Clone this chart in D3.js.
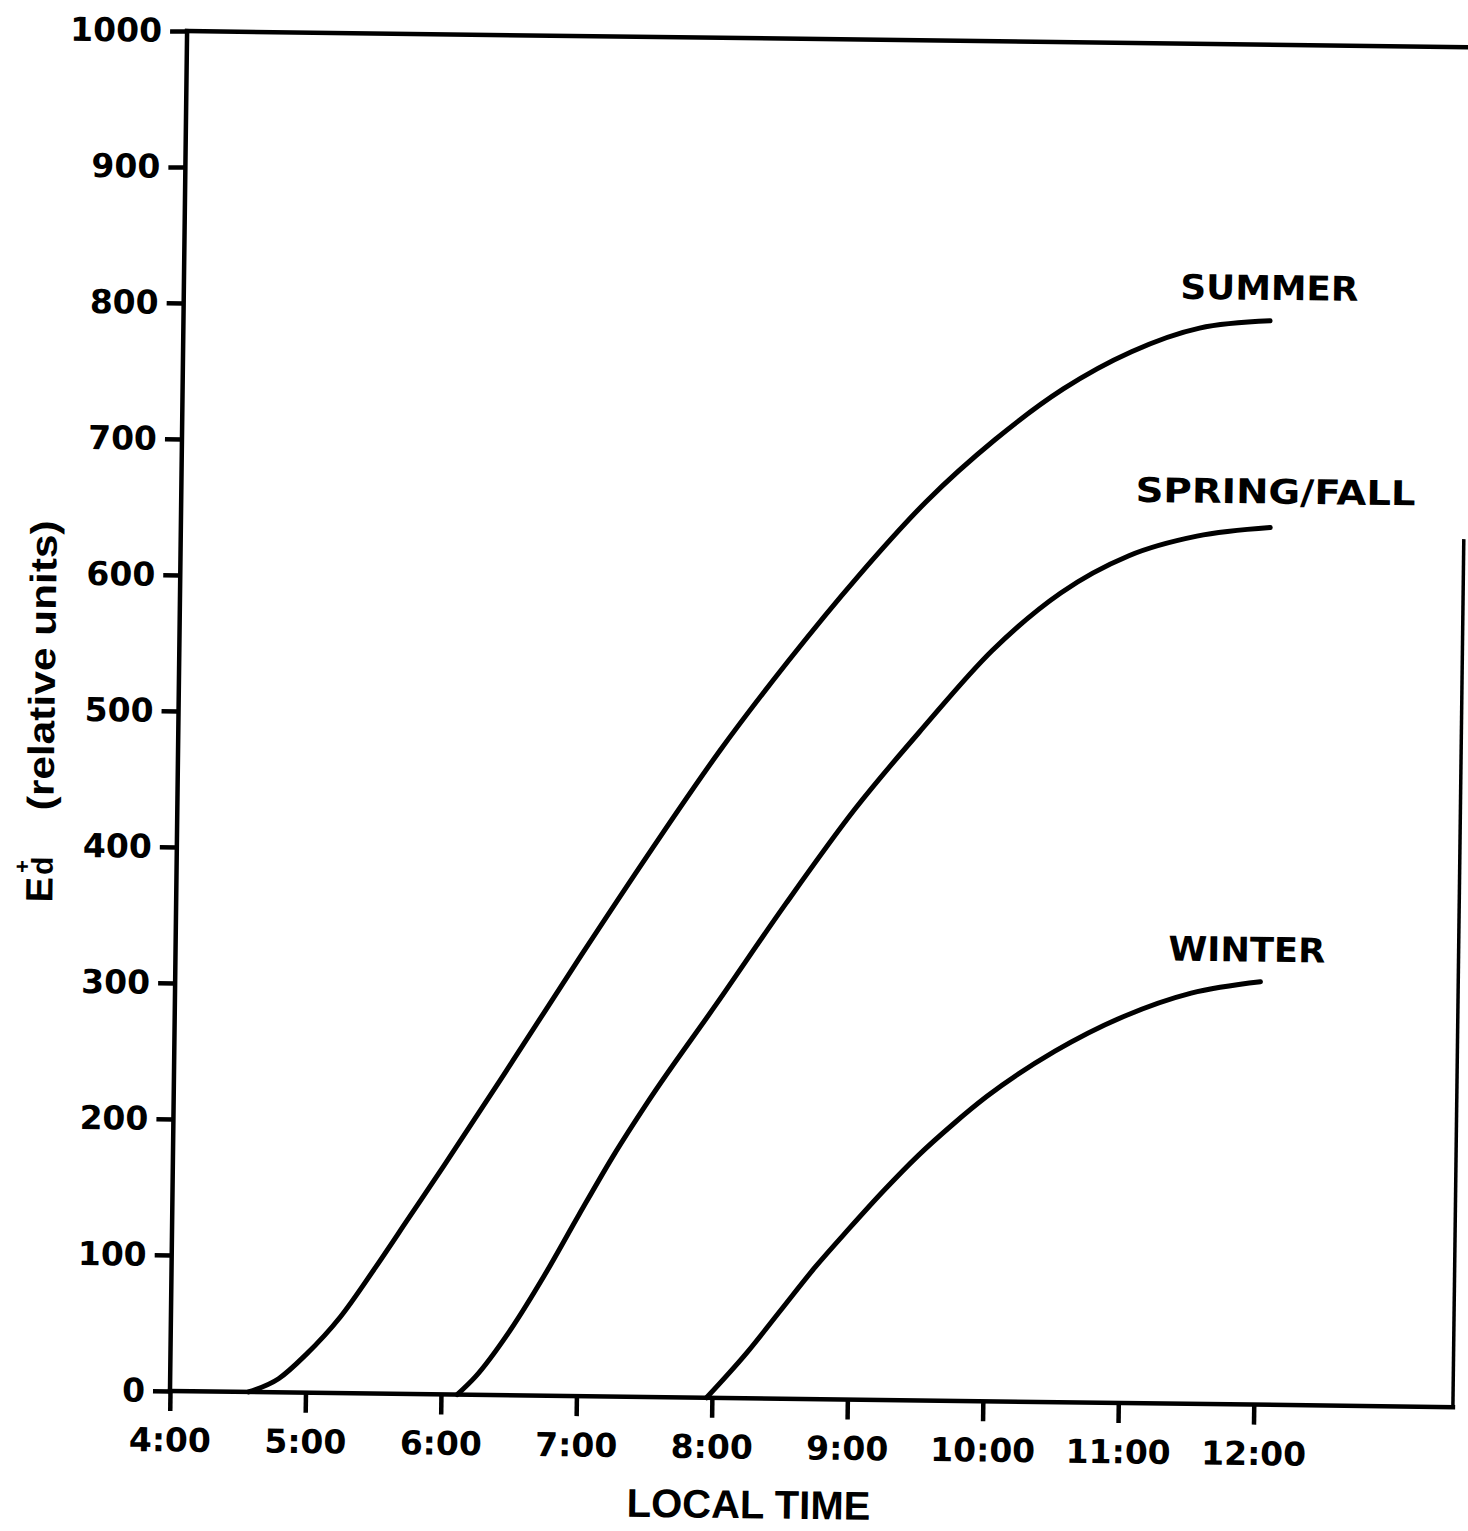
<!DOCTYPE html>
<html>
<head>
<meta charset="utf-8">
<script src="https://cdn.jsdelivr.net/npm/d3@7/dist/d3.min.js"></script>
<style>
  body { margin: 0; background: #fff; }
  svg { display: block; }
</style>
</head>
<body>
<svg id="chart"></svg>
<script>
// Data (hours of local time, E_d+ in relative units)
const hourTicks = [4, 5, 6, 7, 8, 9, 10, 11, 12];
const valueTicks = [0, 100, 200, 300, 400, 500, 600, 700, 800, 900, 1000];

const summerHours = [4.58, 4.80, 5.00, 5.25, 5.50, 5.75, 6.00, 6.50, 7.00, 7.50, 8.00, 8.50, 9.00, 9.50, 10.00, 10.50, 11.00, 11.50, 12.02];
const summerValues = [0, 10, 28, 56, 92, 130, 168, 246, 325, 402, 476, 543, 605, 661, 707, 745, 773, 791, 797];

const springHours = [6.12, 6.25, 6.50, 6.75, 7.00, 7.25, 7.50, 8.00, 8.50, 9.00, 9.50, 10.00, 10.50, 11.00, 11.50, 12.04];
const springValues = [0, 13, 47, 88, 133, 177, 217, 290, 364, 434, 495, 552, 595, 623, 638, 645];

const winterHours = [7.96, 8.25, 8.50, 8.75, 9.00, 9.25, 9.50, 9.75, 10.00, 10.50, 11.00, 11.50, 12.01];
const winterValues = [0, 33, 65, 97, 126, 154, 180, 203, 224, 258, 284, 302, 311];

const seriesNames = ["SUMMER", "SPRING/FALL", "WINTER"];

// Layout
const WIDTH = 1468;
const HEIGHT = 1531;
const LEFT = 170;
const TOP = 31;
const PLOT_W = 1283;
const PLOT_H = 1360;
const TILT = 0.72; // the scanned page sits slightly rotated
const X_MAX = 13.47;
const RIGHT_EDGE_TOP = 637; // right frame only visible up to here

const series = [
  { name: seriesNames[0], hours: summerHours, values: summerValues, dx: -1, dy: -21, len: 178 },
  { name: seriesNames[1], hours: springHours, values: springValues, dx: 5, dy: -24, len: 280 },
  { name: seriesNames[2], hours: winterHours, values: winterValues, dx: -14, dy: -20, len: 157 }
];

const svg = d3.select("#chart")
  .attr("width", WIDTH)
  .attr("height", HEIGHT);

svg.append("rect")
  .attr("width", WIDTH)
  .attr("height", HEIGHT)
  .attr("fill", "#fff");

const chart = svg.append("g")
  .attr("transform",
    "rotate(" + TILT + "," + LEFT + "," + (TOP + PLOT_H) + ") translate(" + LEFT + "," + TOP + ")");

const x = d3.scaleLinear().domain([4, X_MAX]).range([0, PLOT_W]);
const y = d3.scaleLinear().domain([0, 1000]).range([PLOT_H, 0]);

// Frame
const frame = chart.append("g")
  .attr("stroke", "#000")
  .attr("stroke-linecap", "square");

frame.append("line") // top
  .attr("x1", 0).attr("x2", PLOT_W)
  .attr("y1", y(1000)).attr("y2", y(1000))
  .attr("stroke-width", 4.5);

frame.append("line") // left
  .attr("x1", 0).attr("x2", 0)
  .attr("y1", y(1000)).attr("y2", y(0))
  .attr("stroke-width", 4.5);

frame.append("line") // bottom
  .attr("x1", 0).attr("x2", PLOT_W)
  .attr("y1", y(0)).attr("y2", y(0))
  .attr("stroke-width", 4.5);

frame.append("line") // right
  .attr("x1", PLOT_W).attr("x2", PLOT_W)
  .attr("y1", y(RIGHT_EDGE_TOP)).attr("y2", y(0))
  .attr("stroke-width", 3.5);

// Axes
const yAxis = chart.append("g")
  .call(d3.axisLeft(y)
    .tickValues(valueTicks)
    .tickFormat(d3.format("d"))
    .tickSize(17)
    .tickPadding(8));

const xAxis = chart.append("g")
  .attr("transform", "translate(0," + PLOT_H + ")")
  .call(d3.axisBottom(x)
    .tickValues(hourTicks)
    .tickFormat(d => d + ":00")
    .tickSize(20)
    .tickPadding(17));

[yAxis, xAxis].forEach(ax => {
  ax.select(".domain").remove();
  ax.selectAll(".tick line")
    .attr("stroke", "#000")
    .attr("stroke-width", 4.5);
  ax.selectAll(".tick text")
    .attr("fill", "#000")
    .attr("font-family", "'DejaVu Sans', sans-serif")
    .attr("font-weight", "bold")
    .attr("font-size", "33px");
});

// Curves
const line = d3.line()
  .x(d => x(d[0]))
  .y(d => y(d[1]))
  .curve(d3.curveMonotoneX);

series.forEach(s => {
  const pts = s.hours.map((h, i) => [h, s.values[i]]);

  chart.append("path")
    .datum(pts)
    .attr("d", line)
    .attr("fill", "none")
    .attr("stroke", "#000")
    .attr("stroke-width", 5)
    .attr("stroke-linecap", "round")
    .attr("stroke-linejoin", "round");

  const last = pts[pts.length - 1];
  chart.append("text")
    .attr("x", x(last[0]) + s.dx)
    .attr("y", y(last[1]) + s.dy)
    .attr("text-anchor", "middle")
    .attr("textLength", s.len)
    .attr("lengthAdjust", "spacingAndGlyphs")
    .attr("font-family", "'DejaVu Sans', sans-serif")
    .attr("font-weight", "bold")
    .attr("font-size", "34px")
    .attr("fill", "#000")
    .text(s.name);
});

// X axis title
chart.append("text")
  .attr("x", x(8.28))
  .attr("y", PLOT_H + 120)
  .attr("text-anchor", "middle")
  .attr("font-family", "'Liberation Sans', Arial, sans-serif")
  .attr("font-weight", "bold")
  .attr("font-size", "40px")
  .attr("fill", "#000")
  .text("LOCAL TIME");

// Y axis title: E with a subscript d, a + over the d, then (relative units)
const yTitle = chart.append("g")
  .attr("transform", "translate(-124," + (PLOT_H - 678) + ") rotate(-90)")
  .attr("font-family", "'Liberation Sans', Arial, sans-serif")
  .attr("font-weight", "bold")
  .attr("fill", "#000");

const ed = yTitle.append("text")
  .attr("x", -191)
  .attr("y", 0)
  .attr("font-size", "38px")
  .text("E");

const eLen = ed.node().getComputedTextLength();
const dStart = -191 + eLen + 2;

const dText = yTitle.append("text")
  .attr("x", dStart)
  .attr("y", 0)
  .attr("font-size", "30px")
  .text("d");

const dLen = dText.node().getComputedTextLength();

yTitle.append("text")
  .attr("x", dStart + dLen * 0.45)
  .attr("y", -23)
  .attr("text-anchor", "middle")
  .attr("font-size", "22px")
  .text("+");

yTitle.append("text")
  .attr("x", -99)
  .attr("y", 0)
  .attr("font-size", "37px")
  .attr("textLength", 290)
  .attr("lengthAdjust", "spacingAndGlyphs")
  .text("(relative units)");
</script>
</body>
</html>
